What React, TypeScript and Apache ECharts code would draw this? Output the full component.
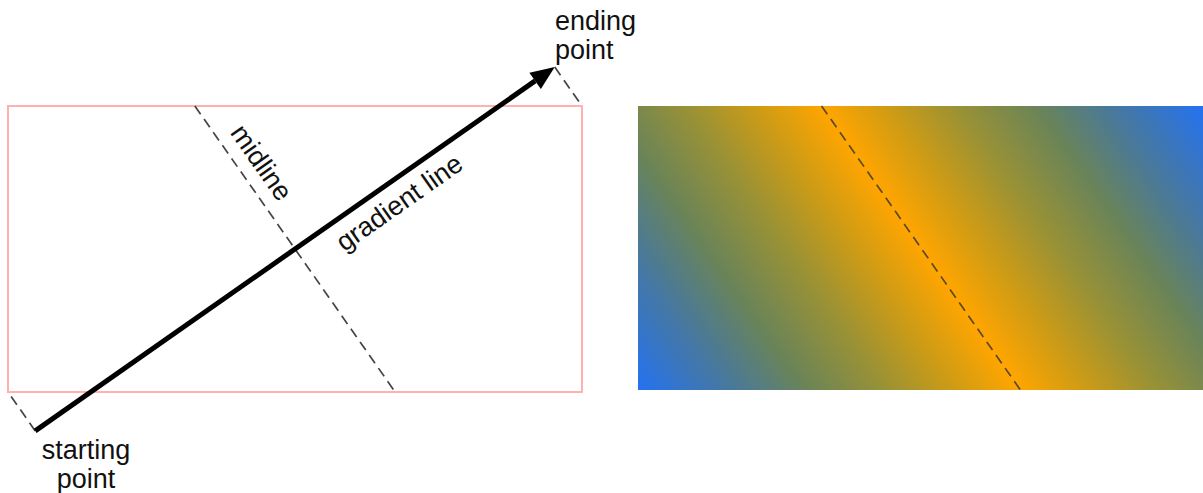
import React, { useEffect, useRef } from "react";
import * as echarts from "echarts";

// Diagram parameters (CSS-like linear-gradient at 55deg)
const gradientAngleDeg = [55];
const gradientColors = [
  "#2472f2", "#47789f", "#6a8458", "#979137", "#cb9b17", "#ffa500",
  "#cb9b17", "#979137", "#6a8458", "#47789f", "#2472f2",
];
const gradientStops = [0, 0.12, 0.22, 0.32, 0.41, 0.5, 0.59, 0.68, 0.78, 0.88, 1];
const labels = ["starting\npoint", "ending\npoint", "midline", "gradient line"];
const boxLeft = { x: 8, y: 106, w: 574, h: 286 };
const boxRight = { x: 638, y: 106, w: 566, h: 284 };

const FONT = '27px "Liberation Sans", Arial, Helvetica, sans-serif';
const TEXT_COLOR = "#111";

function geom(b: { x: number; y: number; w: number; h: number }) {
  const a = (gradientAngleDeg[0] * Math.PI) / 180;
  const dir = [Math.sin(a), -Math.cos(a)];
  const perp = [Math.cos(a), Math.sin(a)];
  const L = Math.abs(b.w * Math.sin(a)) + Math.abs(b.h * Math.cos(a));
  const cx = b.x + b.w / 2;
  const cy = b.y + b.h / 2;
  const start = [cx - (dir[0] * L) / 2, cy - (dir[1] * L) / 2];
  const end = [cx + (dir[0] * L) / 2, cy + (dir[1] * L) / 2];
  const tTop = (b.y - cy) / perp[1];
  const tBot = (b.y + b.h - cy) / perp[1];
  const midTop = [cx + perp[0] * tTop, b.y];
  const midBot = [cx + perp[0] * tBot, b.y + b.h];
  return { a, dir, perp, L, cx, cy, start, end, midTop, midBot };
}

export default function App() {
  const ref = useRef<HTMLDivElement>(null);
  useEffect(() => {
    document.body.style.margin = "0";
    if (!ref.current) return;
    const chart = echarts.init(ref.current, null, { renderer: "svg" });
    const g = geom(boxLeft);
    const r = geom(boxRight);
    const dash = { stroke: "#444", lineWidth: 1.7, lineDash: [10, 6] };

    const headLen = 24;
    const headHalf = 10;
    const tip = g.end;
    const base = [tip[0] - g.dir[0] * headLen, tip[1] - g.dir[1] * headLen];
    const h1 = [base[0] + g.perp[0] * headHalf, base[1] + g.perp[1] * headHalf];
    const h2 = [base[0] - g.perp[0] * headHalf, base[1] - g.perp[1] * headHalf];

    const stops = gradientColors.map((c, i) => ({ offset: gradientStops[i], color: c }));
    const fill = new echarts.graphic.LinearGradient(
      r.start[0], r.start[1], r.end[0], r.end[1], stops, true
    );

    const midLabelPos = [
      g.cx + g.perp[0] * -90 + g.dir[0] * 22,
      g.cy + g.perp[1] * -90 + g.dir[1] * 22,
    ];
    const gradLabelPos = [
      g.cx + g.dir[0] * 112 + g.perp[0] * 22,
      g.cy + g.dir[1] * 112 + g.perp[1] * 22,
    ];

    chart.setOption({
      animation: false,
      graphic: {
        elements: [
          {
            type: "rect",
            shape: { x: boxLeft.x, y: boxLeft.y, width: boxLeft.w, height: boxLeft.h },
            style: { fill: "none", stroke: "#ffb0b0", lineWidth: 2 },
          },
          {
            type: "line",
            shape: { x1: g.midTop[0], y1: g.midTop[1], x2: g.midBot[0], y2: g.midBot[1] },
            style: dash,
          },
          {
            type: "line",
            shape: { x1: g.start[0], y1: g.start[1], x2: boxLeft.x, y2: boxLeft.y + boxLeft.h },
            style: dash,
          },
          {
            type: "line",
            shape: { x1: g.end[0], y1: g.end[1], x2: boxLeft.x + boxLeft.w, y2: boxLeft.y },
            style: dash,
          },
          {
            type: "line",
            shape: { x1: g.start[0], y1: g.start[1], x2: base[0], y2: base[1] },
            style: { stroke: "#000", lineWidth: 5, lineCap: "butt" },
          },
          {
            type: "polygon",
            shape: { points: [tip, h1, h2] },
            style: { fill: "#000" },
          },
          {
            type: "text",
            x: midLabelPos[0],
            y: midLabelPos[1],
            rotation: -g.a,
            style: {
              text: labels[2], font: FONT, fill: TEXT_COLOR,
              align: "center", verticalAlign: "middle",
            },
          },
          {
            type: "text",
            x: gradLabelPos[0],
            y: gradLabelPos[1],
            rotation: Math.PI / 2 - g.a,
            style: {
              text: labels[3], font: FONT, fill: TEXT_COLOR,
              align: "center", verticalAlign: "middle",
            },
          },
          {
            type: "text",
            x: 86,
            y: 435,
            style: {
              text: labels[0], font: FONT, fill: TEXT_COLOR, lineHeight: 29, align: "center",
            },
          },
          {
            type: "text",
            x: 555,
            y: 6,
            style: { text: labels[1], font: FONT, fill: TEXT_COLOR, lineHeight: 29 },
          },
          {
            type: "rect",
            shape: { x: boxRight.x, y: boxRight.y, width: boxRight.w, height: boxRight.h },
            style: { fill },
          },
          {
            type: "line",
            shape: { x1: r.midTop[0], y1: r.midTop[1], x2: r.midBot[0], y2: r.midBot[1] },
            style: { stroke: "#5a4a2a", lineWidth: 1.7, lineDash: [10, 6] },
          },
        ],
      },
    });
    return () => chart.dispose();
  }, []);
  return <div ref={ref} style={{ width: 1203, height: 493 }} />;
}
